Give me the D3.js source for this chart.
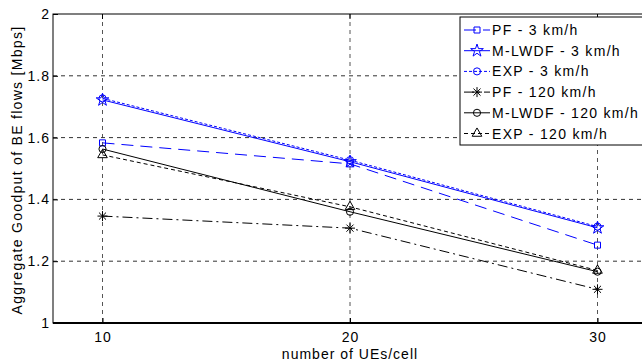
<!DOCTYPE html>
<html>
<head>
<meta charset="utf-8">
<script src="https://cdn.jsdelivr.net/npm/d3@7"></script>
<style>
  body { margin: 0; background: #fff; }
  svg { font-family: "Liberation Sans", Arial, sans-serif; }
</style>
</head>
<body>
<div id="canvas"></div>
<script>
// data
const ues = [10, 20, 30];
const pf3 = [1.583, 1.515, 1.252];
const mlwdf3 = [1.722, 1.522, 1.308];
const exp3 = [1.727, 1.527, 1.312];
const pf120 = [1.346, 1.307, 1.109];
const mlwdf120 = [1.563, 1.360, 1.166];
const exp120 = [1.544, 1.376, 1.170];
const seriesNames = ["PF - 3 km/h", "M-LWDF - 3 km/h", "EXP - 3 km/h",
    "PF - 120 km/h", "M-LWDF - 120 km/h", "EXP - 120 km/h"];
const yTicks = [1, 1.2, 1.4, 1.6, 1.8, 2];

// asterisk marker (matlab '*')
const asterisk = {
    draw(ctx, size) {
        const r = Math.sqrt(size) / 2;
        for (let k = 0; k < 4; k++) {
            const a = k * Math.PI / 4;
            ctx.moveTo(-r * Math.cos(a), -r * Math.sin(a));
            ctx.lineTo(r * Math.cos(a), r * Math.sin(a));
        }
    }
};

const styles = [
    {color: "#0000ff", dash: "12,7", symbol: d3.symbolSquare, size: 36},
    {color: "#0000ff", dash: null, symbol: d3.symbolStar, size: 50},
    {color: "#0000ff", dash: "3,2", symbol: d3.symbolCircle, size: 40},
    {color: "#000000", dash: "10,4,2,4", symbol: asterisk, size: 100},
    {color: "#000000", dash: null, symbol: d3.symbolCircle, size: 40},
    {color: "#000000", dash: "4,3", symbol: d3.symbolTriangle, size: 40}
];
const allSeries = [pf3, mlwdf3, exp3, pf120, mlwdf120, exp120];

const W = 642, H = 364;
const margin = {top: 14, left: 53},
    right = 647, bottom = 323;

const svg = d3.select("#canvas").append("svg")
    .attr("width", W).attr("height", H);

const xScale = d3.scaleLinear().domain([8, 32]).range([margin.left, right]);
const yScale = d3.scaleLinear().domain([1, 2]).range([bottom, margin.top]);

// grid
const grid = svg.append("g");
ues.forEach(u => grid.append("line")
    .attr("x1", xScale(u)).attr("x2", xScale(u))
    .attr("y1", margin.top).attr("y2", bottom)
    .attr("stroke", "#555").attr("stroke-dasharray", "4,4"));
yTicks.slice(1, -1).forEach(t => grid.append("line")
    .attr("x1", margin.left).attr("x2", right)
    .attr("y1", yScale(t)).attr("y2", yScale(t))
    .attr("stroke", "#333").attr("stroke-dasharray", "4,4"));

// box
svg.append("rect")
    .attr("x", margin.left).attr("y", margin.top)
    .attr("width", right - margin.left).attr("height", bottom - margin.top)
    .attr("fill", "none").attr("stroke", "#000").attr("stroke-width", 1);
svg.append("line")
    .attr("x1", margin.left).attr("x2", right)
    .attr("y1", bottom).attr("y2", bottom)
    .attr("stroke", "#000").attr("stroke-width", 2);

// axes
const xAxis = svg.append("g")
    .attr("transform", "translate(0," + bottom + ")")
    .call(d3.axisBottom(xScale).tickValues(ues).tickSize(-5).tickPadding(9));
const yAxis = svg.append("g")
    .attr("transform", "translate(" + margin.left + ",0)")
    .call(d3.axisLeft(yScale).tickValues(yTicks).tickSize(-5).tickPadding(3)
        .tickFormat(d3.format("")));
[xAxis, yAxis].forEach(a => {
    a.select(".domain").remove();
    a.selectAll("text").style("font-size", "14px").style("letter-spacing", "1px")
        .style("font-family", "Liberation Sans, Arial, sans-serif").attr("fill", "#000");
});

// top ticks
ues.forEach(u => svg.append("line")
    .attr("x1", xScale(u)).attr("x2", xScale(u))
    .attr("y1", margin.top).attr("y2", margin.top + 5)
    .attr("stroke", "#000"));

svg.append("text")
    .attr("x", 350).attr("y", 359)
    .attr("text-anchor", "middle").style("font-size", "14px")
    .style("letter-spacing", "1px")
    .text("number of UEs/cell");

svg.append("text")
    .attr("transform", "translate(22,170) rotate(-90)")
    .attr("text-anchor", "middle").style("font-size", "14px")
    .style("letter-spacing", "1.3px")
    .text("Aggregate Goodput of BE flows [Mbps]");

// lines + markers
const line = d3.line().x((d, i) => xScale(ues[i])).y(d => yScale(d));
allSeries.forEach((vals, s) => {
    const st = styles[s];
    svg.append("path")
        .datum(vals)
        .attr("d", line)
        .attr("fill", "none")
        .attr("stroke", st.color)
        .attr("stroke-width", 1)
        .attr("stroke-dasharray", st.dash);
    svg.selectAll(null)
        .data(vals)
        .enter()
        .append("path")
        .attr("transform", (d, i) => "translate(" + xScale(ues[i]) + "," + yScale(d) + ")")
        .attr("d", d3.symbol().type(st.symbol).size(st.size))
        .attr("fill", "none")
        .attr("stroke", st.color)
        .attr("stroke-width", 1);
});

// legend
const legend = svg.append("g");
legend.append("rect")
    .attr("x", 460).attr("y", 17).attr("width", 190).attr("height", 128)
    .attr("fill", "#fff").attr("stroke", "#000");
seriesNames.forEach((name, s) => {
    const st = styles[s];
    const yy = 30 + s * 20.7;
    legend.append("line")
        .attr("x1", 464).attr("x2", 490).attr("y1", yy).attr("y2", yy)
        .attr("stroke", st.color).attr("stroke-dasharray", st.dash);
    legend.append("path")
        .attr("transform", "translate(477," + yy + ")")
        .attr("d", d3.symbol().type(st.symbol).size(st.size))
        .attr("fill", "none").attr("stroke", st.color);
    legend.append("text")
        .attr("x", 492).attr("y", yy + 5)
        .style("font-size", "14px").style("letter-spacing", "1.3px")
        .text(name);
});
</script>
</body>
</html>
